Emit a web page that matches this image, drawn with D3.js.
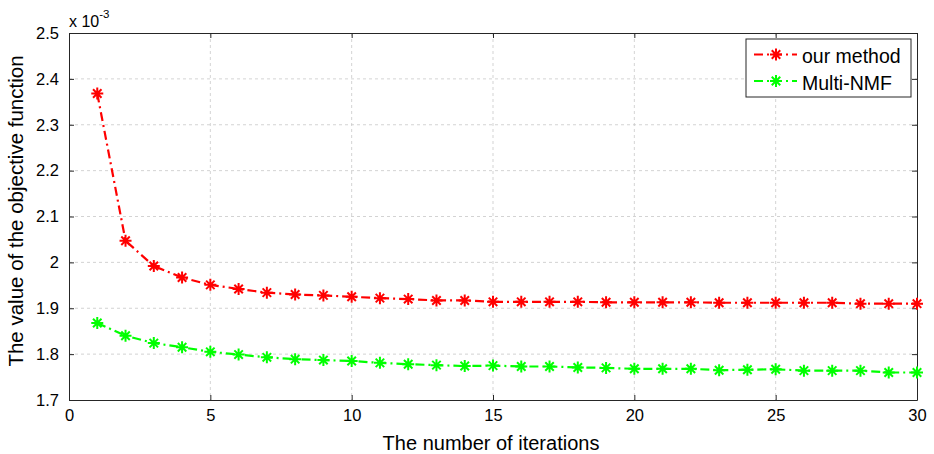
<!DOCTYPE html>
<html>
<head>
<meta charset="utf-8">
<script src="https://cdn.jsdelivr.net/npm/d3@7"></script>
<style>
  html, body { margin: 0; padding: 0; background: #fff; }
  svg { display: block; font-family: "Liberation Sans", Arial, sans-serif; }
</style>
</head>
<body>
<svg id="chart" width="934" height="454"></svg>
<script>
// iterations 1..30
const iterations = d3.range(1, 31);

// objective value (x 10^-3)
const ourMethod = [2.368, 2.047, 1.992, 1.967, 1.951, 1.942, 1.934, 1.930, 1.928, 1.925,
                   1.922, 1.920, 1.917, 1.917, 1.914, 1.914, 1.914, 1.914, 1.913, 1.913,
                   1.913, 1.913, 1.912, 1.912, 1.912, 1.912, 1.912, 1.910, 1.910, 1.910];
const multiNMF  = [1.868, 1.840, 1.824, 1.815, 1.805, 1.799, 1.793, 1.789, 1.787, 1.785,
                   1.781, 1.778, 1.776, 1.774, 1.775, 1.773, 1.773, 1.771, 1.770, 1.768,
                   1.768, 1.768, 1.765, 1.766, 1.767, 1.764, 1.764, 1.764, 1.760, 1.760];

const xTicks = [0, 5, 10, 15, 20, 25, 30];
const yTicks = [1.7, 1.8, 1.9, 2.0, 2.1, 2.2, 2.3, 2.4, 2.5];

const series = [
  { name: "our method", color: "#ff0000", values: ourMethod },
  { name: "Multi-NMF",  color: "#00ff00", values: multiNMF }
];

const svg = d3.select("#chart");
const margin = { top: 33, right: 17, bottom: 54, left: 69 };
const W = +svg.attr("width"), H = +svg.attr("height");
const width  = W - margin.left - margin.right;
const height = H - margin.top - margin.bottom;
const g = svg.append("g").attr("transform", `translate(${margin.left},${margin.top})`);

const x = d3.scaleLinear().domain([0, 30]).range([0, width]);
const y = d3.scaleLinear().domain([1.7, 2.5]).range([height, 0]);

// dotted grid
const grid = g.append("g").attr("stroke", "#c8c8c8").attr("stroke-width", 0.8)
  .attr("stroke-dasharray", "3,3");
grid.selectAll(".gx").data(xTicks.slice(1, -1)).join("line")
  .attr("x1", d => x(d)).attr("x2", d => x(d)).attr("y1", 0).attr("y2", height);
grid.selectAll(".gy").data(yTicks.slice(1, -1)).join("line")
  .attr("y1", d => y(d)).attr("y2", d => y(d)).attr("x1", 0).attr("x2", width);

// axes (ticks pointing inward, box on all sides)
const fmtY = d => (Math.abs(d - 2) < 1e-9 ? "2" : d3.format(".1f")(d));
const axStyle = sel => {
  sel.select(".domain").attr("stroke", "#262626");
  sel.selectAll(".tick line").attr("stroke", "#262626");
  sel.selectAll(".tick text").attr("fill", "#000").attr("font-size", "16.5px")
    .attr("font-family", "Liberation Sans, Arial, sans-serif");
};
g.append("g").attr("transform", `translate(0,${height})`)
  .call(d3.axisBottom(x).tickValues(xTicks).tickSizeInner(-5).tickSizeOuter(0).tickPadding(9))
  .call(axStyle);
g.append("g")
  .call(d3.axisLeft(y).tickValues(yTicks).tickFormat(fmtY).tickSizeInner(-5).tickSizeOuter(0).tickPadding(10))
  .call(axStyle);
g.append("g")
  .call(d3.axisTop(x).tickValues(xTicks).tickSizeInner(-5).tickSizeOuter(0).tickFormat(""))
  .call(axStyle);
g.append("g").attr("transform", `translate(${width},0)`)
  .call(d3.axisRight(y).tickValues(yTicks).tickSizeInner(-5).tickSizeOuter(0).tickFormat(""))
  .call(axStyle);

// exponent label
const expo = svg.append("text").attr("x", margin.left).attr("y", 27)
  .attr("font-size", "16px").attr("fill", "#000");
expo.append("tspan").text("x 10");
expo.append("tspan").attr("dy", -9).attr("font-size", "11.5px").text("-3");

// axis titles
svg.append("text").attr("x", 491).attr("y", 450)
  .attr("text-anchor", "middle").attr("font-size", "20px").attr("fill", "#000")
  .text("The number of iterations");
svg.append("text").attr("transform", "translate(23,211) rotate(-90)")
  .attr("text-anchor", "middle").attr("font-size", "20.5px").attr("fill", "#000")
  .text("The value of the objective function");

// asterisk marker
function star(sel, color, r) {
  const a = r * 0.7071;
  sel.append("path")
    .attr("d", `M${-r},0H${r}M0,${-r}V${r}M${-a},${-a}L${a},${a}M${-a},${a}L${a},${-a}`)
    .attr("stroke", color).attr("stroke-width", 2).attr("fill", "none");
}

const line = d3.line().x((d, i) => x(iterations[i])).y(d => y(d));

series.forEach(s => {
  g.append("path").datum(s.values)
    .attr("d", line)
    .attr("fill", "none").attr("stroke", s.color).attr("stroke-width", 2.2)
    .attr("stroke-dasharray", "9,4,2,4");
  g.append("g").selectAll("g").data(s.values).join("g")
    .attr("transform", (d, i) => `translate(${x(iterations[i])},${y(d)})`)
    .each(function () { star(d3.select(this), s.color, 6); });
});

// legend
const L = svg.append("g").attr("transform", "translate(746,39)");
L.append("rect").attr("width", 165).attr("height", 58)
  .attr("fill", "#fff").attr("stroke", "#262626").attr("stroke-width", 1);
series.forEach((s, i) => {
  const row = L.append("g").attr("transform", `translate(0,${15.5 + i * 26.5})`);
  row.append("line").attr("x1", 8).attr("x2", 51).attr("y1", 0).attr("y2", 0)
    .attr("stroke", s.color).attr("stroke-width", 2.2).attr("stroke-dasharray", "9,4,2,4");
  row.append("g").attr("transform", "translate(30,0)").call(sel => star(sel, s.color, 6));
  row.append("text").attr("x", 56).attr("y", 8.5).attr("font-size", "19.5px").attr("fill", "#000")
    .text(s.name);
});
</script>
</body>
</html>
